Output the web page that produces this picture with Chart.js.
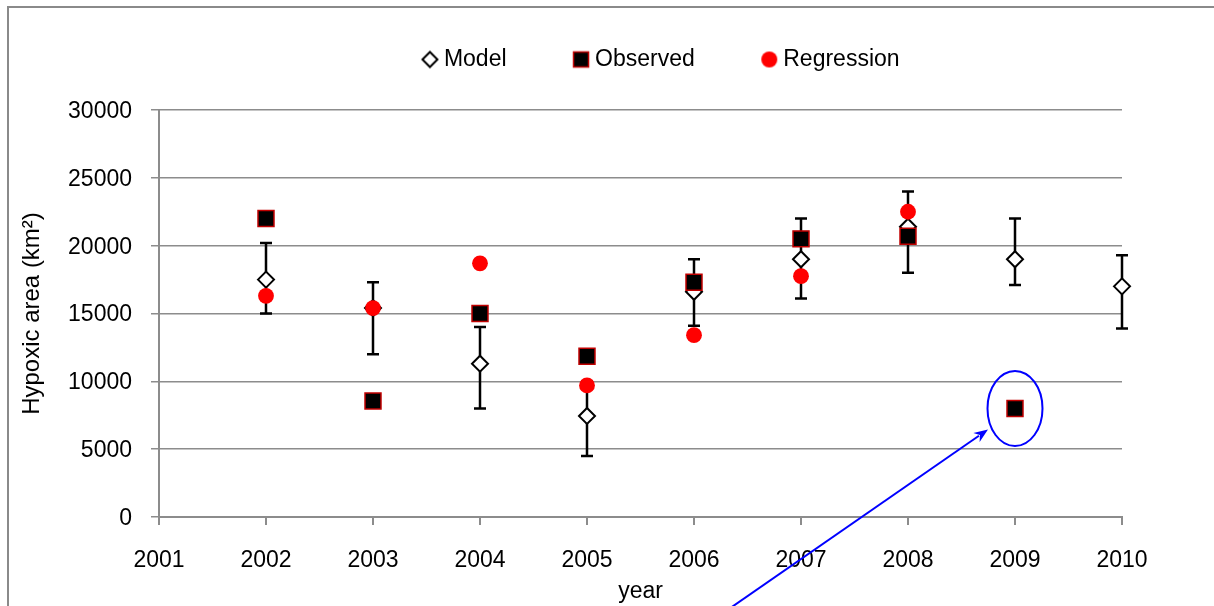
<!DOCTYPE html>
<html>
<head>
<meta charset="utf-8">
<script src="https://cdn.jsdelivr.net/npm/chart.js@4/dist/chart.umd.min.js"></script>
<style>
html, body { margin: 0; padding: 0; background: #fff; overflow: hidden; }
#wrap { width: 1214px; height: 606px; position: relative; }
</style>
</head>
<body>
<div id="wrap"><canvas id="c"></canvas></div>
<script>
// ---- data ----
const years = [2002, 2003, 2004, 2005, 2006, 2007, 2008, 2009, 2010];
const modelValues = [17500, 15400, 11300, 7450, 16600, 19000, 21400, 19000, 17000];
const modelHigh = [20200, 17300, 14000, 10000, 19000, 22000, 24000, 22000, 19300];
const modelLow = [15000, 12000, 8000, 4500, 14100, 16100, 18000, 17100, 13900];
const observedValues = [22000, 8550, 15000, 11850, 17300, 20500, 20700, 8000, null];
const regressionValues = [16300, 15400, 18700, 9700, 13400, 17750, 22500, null, null];
const seriesNames = ['Model', 'Observed', 'Regression'];
const xRange = { min: 2001, max: 2010, step: 1 };
const yRange = { min: 0, max: 30000, step: 5000 };
const xTitle = 'year';
const yTitle = 'Hypoxic area (km²)';
const highlightYear = 2009;

const toPoints = (vals) => years.map((x, i) => ({ x: x, y: vals[i] })).filter(p => p.y !== null);

// ---- legend marker images ----
function markerCanvas(size, draw) {
  const c = document.createElement('canvas');
  c.width = size; c.height = size;
  draw(c.getContext('2d'), size / 2);
  return c;
}
const legendMarkers = [
  markerCanvas(20, (g, m) => {
    g.beginPath();
    g.moveTo(m - 7.5, m); g.lineTo(m, m - 7.5); g.lineTo(m + 7.5, m); g.lineTo(m, m + 7.5);
    g.closePath();
    g.fillStyle = '#fff'; g.fill();
    g.lineWidth = 2; g.strokeStyle = '#000'; g.stroke();
  }),
  markerCanvas(20, (g, m) => {
    g.fillStyle = '#000';
    g.fillRect(m - 7.5, m - 7.5, 15, 15);
    g.lineWidth = 1.5; g.strokeStyle = '#c00000';
    g.strokeRect(m - 7.5, m - 7.5, 15, 15);
  }),
  markerCanvas(20, (g, m) => {
    g.beginPath(); g.arc(m, m, 8, 0, Math.PI * 2);
    g.fillStyle = '#ff0000'; g.fill();
  })
];

// ---- plugins ----
const frame = {
  id: 'frame',
  beforeDraw(chart) {
    const ctx = chart.ctx;
    ctx.save();
    ctx.strokeStyle = '#8a8a8a';
    ctx.lineWidth = 2;
    ctx.beginPath();
    ctx.moveTo(8, chart.height + 10);
    ctx.lineTo(8, 7);
    ctx.lineTo(chart.width + 10, 7);
    ctx.stroke();
    ctx.restore();
  }
};

const legendShift = {
  id: 'legendShift',
  afterLayout(chart) {
    const lg = chart.legend;
    if (!lg) return;
    const dx = 23, dy = -29;
    lg.left += dx; lg.right += dx; lg.top += dy; lg.bottom += dy;
  }
};

const errorBars = {
  id: 'errorBars',
  beforeDatasetsDraw(chart) {
    const { ctx, scales: { x, y } } = chart;
    ctx.save();
    ctx.strokeStyle = '#000';
    ctx.lineWidth = 2.5;
    ctx.lineCap = 'butt';
    years.forEach((yr, i) => {
      const px = x.getPixelForValue(yr);
      const top = y.getPixelForValue(modelHigh[i]);
      const bot = y.getPixelForValue(modelLow[i]);
      ctx.beginPath();
      ctx.moveTo(px, top); ctx.lineTo(px, bot);
      ctx.moveTo(px - 6, top); ctx.lineTo(px + 6, top);
      ctx.moveTo(px - 6, bot); ctx.lineTo(px + 6, bot);
      ctx.stroke();
    });
    ctx.restore();
  }
};

const callout = {
  id: 'callout',
  afterDatasetsDraw(chart) {
    const { ctx, scales: { x, y } } = chart;
    const i = years.indexOf(highlightYear);
    const cx = x.getPixelForValue(highlightYear);
    const cy = y.getPixelForValue(observedValues[i]);
    ctx.save();
    ctx.strokeStyle = '#0000ff';
    ctx.fillStyle = '#0000ff';
    ctx.lineWidth = 2;
    ctx.beginPath();
    ctx.ellipse(cx, cy, 27.5, 37.5, 0, 0, Math.PI * 2);
    ctx.stroke();
    // arrow pointing at the ellipse from below-left
    const tipX = cx - 27, tipY = cy + 21;
    const dX = 255, dY = -176.7;
    const L = Math.hypot(dX, dY);
    const ux = dX / L, uy = dY / L;
    const px = -uy, py = ux;
    const headLen = 14, headW = 5.5;
    const sX = tipX - ux * 420, sY = tipY - uy * 420;
    ctx.beginPath();
    ctx.moveTo(sX, sY);
    ctx.lineTo(tipX - ux * (headLen - 3), tipY - uy * (headLen - 3));
    ctx.stroke();
    const bX = tipX - ux * headLen, bY = tipY - uy * headLen;
    const nX = tipX - ux * headLen * 0.7, nY = tipY - uy * headLen * 0.7;
    ctx.beginPath();
    ctx.moveTo(tipX, tipY);
    ctx.lineTo(bX + px * headW, bY + py * headW);
    ctx.lineTo(nX, nY);
    ctx.lineTo(bX - px * headW, bY - py * headW);
    ctx.closePath();
    ctx.fill();
    ctx.restore();
  }
};

// ---- chart ----
Chart.defaults.font.family = "'Liberation Sans', Arial, sans-serif";
Chart.defaults.font.size = 23;
Chart.defaults.color = '#000';

const gridColor = '#8c8c8c';

new Chart(document.getElementById('c'), {
  type: 'scatter',
  data: {
    datasets: [
      {
        label: seriesNames[0],
        data: toPoints(modelValues),
        pointStyle: 'rectRot',
        pointRadius: 8,
        pointHoverRadius: 8,
        backgroundColor: '#ffffff',
        borderColor: '#000000',
        borderWidth: 2,
        order: 3,
        clip: false
      },
      {
        label: seriesNames[1],
        data: toPoints(observedValues),
        pointStyle: 'rect',
        pointRadius: 11.3,
        pointHoverRadius: 11.3,
        backgroundColor: '#000000',
        borderColor: '#c00000',
        borderWidth: 1.5,
        order: 2,
        clip: false
      },
      {
        label: seriesNames[2],
        data: toPoints(regressionValues),
        pointStyle: 'circle',
        pointRadius: 7.9,
        pointHoverRadius: 7.9,
        backgroundColor: '#ff0000',
        borderColor: '#ff0000',
        borderWidth: 0,
        order: 1,
        clip: false
      }
    ]
  },
  options: {
    responsive: true,
    maintainAspectRatio: false,
    animation: false,
    layout: { padding: { top: 5, right: 92, left: 0, bottom: 0 } },
    plugins: {
      tooltip: { enabled: false },
      legend: {
        display: true,
        position: 'top',
        fullSize: false,
        labels: {
          usePointStyle: true,
          pointStyleWidth: 5,
          padding: 72,
          color: '#000',
          font: { size: 23 },
          generateLabels: (chart) => chart.data.datasets.map((ds, i) => ({
            text: ds.label,
            pointStyle: legendMarkers[i],
            fillStyle: ds.backgroundColor,
            strokeStyle: ds.borderColor,
            lineWidth: 0,
            hidden: false,
            datasetIndex: i,
            fontColor: '#000'
          }))
        }
      }
    },
    scales: {
      x: {
        type: 'linear',
        min: xRange.min,
        max: xRange.max,
        afterFit: (s) => { s.height = 89; },
        ticks: {
          stepSize: xRange.step,
          padding: 22,
          color: '#000',
          font: { size: 23 },
          callback: (v) => String(v)
        },
        grid: {
          display: true,
          drawOnChartArea: false,
          drawTicks: true,
          tickLength: 8,
          color: gridColor,
          lineWidth: 2
        },
        border: { display: true, color: gridColor, width: 2 },
        title: {
          display: true,
          text: xTitle,
          color: '#000',
          font: { size: 23 },
          padding: { top: 0, bottom: 1 }
        }
      },
      y: {
        type: 'linear',
        min: yRange.min,
        max: yRange.max,
        afterFit: (s) => { s.width = 159; },
        ticks: {
          stepSize: yRange.step,
          padding: 19,
          labelOffset: 1.5,
          color: '#000',
          font: { size: 23 },
          callback: (v) => String(v)
        },
        grid: {
          display: true,
          drawTicks: true,
          tickLength: 8,
          color: gridColor,
          lineWidth: 1.5
        },
        border: { display: true, color: gridColor, width: 2 },
        title: {
          display: true,
          text: yTitle,
          color: '#000',
          font: { size: 24 },
          padding: { top: 18, bottom: 0 }
        }
      }
    }
  },
  plugins: [frame, legendShift, errorBars, callout]
});
</script>
</body>
</html>
